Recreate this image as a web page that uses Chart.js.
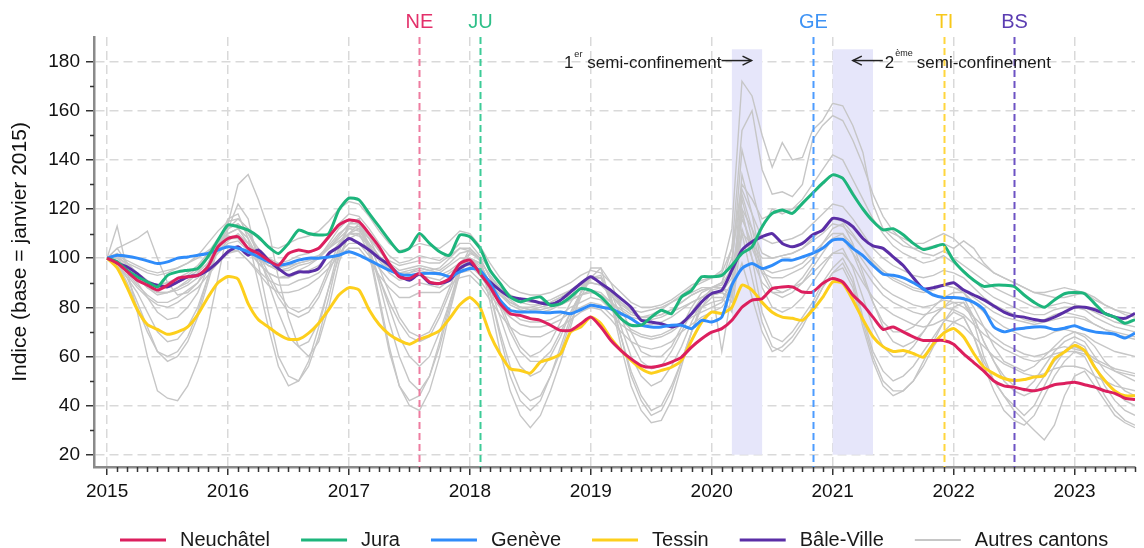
<!DOCTYPE html>
<html><head><meta charset="utf-8">
<script src="https://cdn.jsdelivr.net/npm/chart.js@4.4.1/dist/chart.umd.min.js"></script>
<style>html,body{margin:0;padding:0;background:#fff;}#wrap{width:1144px;height:548px;}</style>
</head><body><div id="wrap"><canvas id="c" width="1144" height="548"></canvas></div>
<script>
// ---------- DATA ----------
const firstYear = 2015; // monthly series starting January 2015
const yearTicks = [2015, 2016, 2017, 2018, 2019, 2020, 2021, 2022, 2023];
const valueTicks = [20, 40, 60, 80, 100, 120, 140, 160, 180];
const minorValueTicks = [30, 50, 70, 90, 110, 130, 150, 170];

const cantonNames = ['Neuchâtel', 'Jura', 'Genève', 'Tessin', 'Bâle-Ville'];
const cantonColors = ['#DC1F5E', '#1DB57C', '#2F8CFA', '#FDCF1C', '#5A2EA6'];
const otherLabel = 'Autres cantons';
const otherColor = '#C6C6C6';

const neuchatel = [
 100, 98, 94.5, 91, 89, 87, 89, 91.8, 92.4, 93, 96.4, 104.6,
 108, 108.7, 104, 101.9, 99.2, 97.1, 101.9, 103.3, 102.6, 104, 108.7, 113.5,
 115.5, 114.8, 110, 104.6, 97.8, 92.4, 91.7, 93.7, 90.3, 89.7, 91.7, 97.8,
 99.2, 93.7, 88.3, 81.5, 77.4, 76.7, 75.4, 74.7, 72.7, 70.6, 70.6, 73.3,
 76, 72, 66.5, 62.4, 59, 56.3, 55.6, 56.3, 57.7, 59.7, 63.8, 67.2,
 69.9, 71.3, 74.7, 80, 82.9, 83.5, 87.6, 88.3, 88.3, 86.2, 86.2, 89.7,
 91.7, 90.3, 85, 81, 76, 71, 72, 70, 68, 66.5, 66.5, 66.5,
 65, 61, 57.5, 54, 50, 48, 47.5, 46.5, 46, 47, 48.5, 49,
 49.5, 48.5, 47.5, 46, 45, 43, 42.5];
const jura = [
 100, 98.5, 95, 92.4, 90.3, 88.3, 93, 94.4, 95.1, 95.8, 100.5, 107.3,
 113.5, 112.8, 111.4, 108.7, 104.6, 101.9, 106, 111.4, 110, 109.4, 110, 119.6,
 124.4, 123.7, 118.2, 112.8, 107.3, 102.6, 104, 110, 106, 102.6, 101.2, 109.4,
 108.7, 104, 95.1, 89.7, 84.2, 82.2, 83.5, 84.2, 80.8, 81.5, 84.2, 87.6,
 86.9, 84.2, 80, 75.4, 72.7, 72.7, 76, 78.8, 77.4, 84.2, 86.9, 92.4,
 92.4, 93, 97.1, 101.9, 104.6, 112.8, 118.2, 119.6, 118.2, 122.3, 126.4, 130.5,
 133.9, 132.5, 126, 120, 115, 111.5, 112, 109.5, 106, 103.5, 104.5, 105.5,
 99, 94.5, 91, 88.5, 89, 89, 88.5, 85, 82, 80, 83, 85.5,
 86, 85.5, 81.5, 77.5, 76, 73.5, 75];
const geneve = [
 100, 101.2, 100.8, 100, 98.9, 97.8, 98.5, 100, 100.5, 101.2, 101.9, 103.3,
 104.6, 104, 102.6, 100.5, 98.5, 97.1, 97.8, 99.2, 100, 100, 100.5, 101.2,
 102.6, 101.2, 99.2, 97.1, 95.1, 93.5, 93, 93.7, 93.9, 93.7, 92.4, 94.4,
 95.8, 95.1, 89.7, 82.9, 78.8, 78.1, 78.1, 78, 77.8, 78.1, 77.4, 79,
 80.8, 80.1, 79.4, 77.4, 75.4, 72.7, 72, 72, 72.7, 72.7, 71.3, 74.7,
 74, 76, 89, 95.8, 97.8, 95.8, 97.1, 99.2, 99.2, 100.5, 101.9, 104,
 107.3, 107.6, 104, 101, 97, 93.5, 93, 92, 90, 87.5, 85, 84,
 84, 83.5, 82, 79, 72, 70, 71, 71.5, 72, 72, 71, 71.5,
 72.5, 71, 70, 69.5, 69, 67.5, 69.5];
const tessin = [
 100, 96, 88, 79, 73, 71, 69, 70, 72, 77, 84, 90,
 92.5, 91.5, 81.5, 75, 72, 69, 67, 67, 69.5, 73.5, 79, 85,
 88, 87, 79, 73, 69, 66.5, 65, 67, 68.5, 70.5, 75.5, 81,
 84, 80, 69, 61, 55, 54.3, 53.2, 57.7, 59, 61, 70, 72,
 76, 73.4, 67.3, 62.4, 58.4, 55, 53.2, 54.3, 55.6, 58.4, 66.5, 74,
 78, 77.5, 80, 89, 87, 82, 78, 76, 75.5, 74.7, 78.8, 84,
 90.3, 89.7, 83, 75, 68, 64, 62, 62.4, 61.2, 59.7, 65.2, 69.4,
 71.4, 67.9, 61.2, 55.6, 53, 51, 50.2, 50.6, 51.6, 52.2, 59, 61.8,
 64.5, 62.4, 55.6, 50.2, 46, 44, 44];
const baleVille = [
 100, 98, 96.4, 93.7, 90.3, 89, 88.3, 90.3, 92.4, 93, 95.1, 98.5,
 102.6, 104.6, 101.2, 103.3, 99.2, 95.8, 93, 94.4, 94.4, 95.8, 101.9, 104.6,
 108, 106, 103.3, 100, 97.1, 93, 91, 93.5, 89.9, 89.7, 91, 95.8,
 97.8, 94.4, 90.3, 86.9, 84.2, 83.5, 82.9, 81.8, 81.2, 82.9, 86.3, 89.7,
 92.4, 89.7, 86.9, 83.5, 80, 74.7, 74, 73.3, 72, 73.3, 77.4, 82.2,
 85.6, 86.9, 95.1, 103.3, 106.7, 108.7, 110, 106, 104.6, 106, 109.4, 111.4,
 116.2, 115.5, 112.8, 108, 105, 104, 100.5, 97, 92, 87.5, 88, 89,
 90, 87, 85, 83, 80.5, 78, 76.5, 76, 75, 74.5, 76, 78,
 80, 80, 79, 77.5, 76, 75.5, 77.5];

// other cantons (grey)
const other01 = [
 100, 113, 95, 78, 60, 46, 43, 42, 48, 58, 72, 92,
 112, 122, 116, 98, 78, 60, 52, 50, 56, 68, 84, 102,
 114, 116, 102, 82, 62, 48, 42, 44, 52, 66, 82, 96,
 104, 100, 82, 62, 46, 36, 31, 36, 46, 58, 72, 86,
 96, 96, 82, 64, 48, 38, 33, 34, 42, 56, 70, 82,
 88, 62, 86, 98, 84, 70, 62, 64, 68, 74, 80, 88,
 94, 96, 88, 72, 58, 48, 44, 46, 50, 58, 66, 74,
 78, 76, 68, 56, 46, 38, 34, 32, 36, 44, 52, 58,
 62, 60, 52, 44, 38, 34, 32];
const other02 = [
 100, 98, 92, 82, 72, 62, 58, 60, 66, 76, 90, 104,
 114, 130, 134, 124, 112, 92, 76, 64, 60, 66, 80, 98,
 110, 114, 104, 90, 74, 60, 50, 46, 52, 64, 80, 94,
 100, 98, 86, 70, 56, 46, 42, 44, 52, 62, 74, 84,
 92, 92, 82, 68, 54, 44, 38, 40, 48, 58, 70, 80,
 86, 86, 82, 120, 100, 78, 68, 66, 70, 76, 82, 90,
 96, 100, 92, 76, 62, 54, 50, 52, 56, 62, 68, 74,
 80, 82, 74, 60, 50, 44, 40, 36, 40, 48, 56, 62,
 66, 64, 56, 48, 42, 38, 36];
const other03 = [
 100, 97, 92, 86, 78, 70, 66, 67, 72, 80, 92, 104,
 112, 116, 112, 102, 90, 78, 68, 64, 66, 74, 88, 100,
 110, 112, 104, 92, 80, 68, 60, 56, 60, 70, 82, 94,
 100, 97, 88, 76, 64, 56, 52, 54, 60, 68, 78, 86,
 92, 92, 84, 72, 60, 52, 48, 50, 56, 64, 74, 82,
 86, 86, 84, 124, 108, 88, 80, 78, 80, 84, 90, 96,
 102, 104, 96, 84, 72, 64, 60, 60, 64, 70, 76, 80,
 84, 84, 76, 66, 58, 52, 48, 46, 50, 56, 62, 66,
 68, 66, 60, 54, 50, 46, 44];
const other04 = [
 100, 99, 95, 90, 84, 78, 75, 76, 80, 86, 96, 106,
 112, 114, 110, 102, 94, 86, 80, 78, 80, 86, 96, 106,
 112, 113, 106, 96, 86, 76, 70, 68, 70, 78, 88, 98,
 102, 100, 92, 82, 72, 64, 60, 62, 66, 74, 82, 88,
 92, 92, 86, 76, 66, 58, 55, 56, 62, 70, 78, 84,
 87, 88, 86, 126, 112, 94, 86, 84, 86, 90, 96, 102,
 108, 110, 102, 92, 82, 74, 70, 70, 72, 76, 80, 84,
 86, 86, 80, 72, 64, 58, 56, 54, 56, 60, 64, 68,
 70, 68, 64, 58, 54, 52, 50];
const other05 = [
 100, 98, 90, 80, 70, 62, 60, 62, 68, 78, 92, 106,
 116, 118, 108, 90, 72, 56, 48, 50, 58, 72, 88, 104,
 114, 116, 104, 84, 64, 48, 40, 38, 46, 60, 78, 94,
 102, 100, 86, 68, 52, 42, 38, 42, 52, 64, 76, 86,
 92, 93, 84, 68, 52, 42, 36, 38, 46, 58, 70, 80,
 84, 84, 78, 110, 92, 74, 64, 62, 66, 72, 80, 88,
 94, 98, 90, 74, 60, 50, 46, 46, 50, 56, 64, 70,
 74, 76, 68, 58, 50, 44, 38, 34, 30, 26, 32, 44,
 52, 54, 48, 42, 36, 33, 31];
const other06 = [
 100, 104, 106, 108, 111, 100, 90, 85, 86, 90, 98, 106,
 110, 112, 108, 100, 92, 84, 78, 76, 78, 84, 94, 104,
 108, 110, 102, 92, 82, 74, 68, 66, 68, 76, 86, 96,
 100, 98, 90, 80, 70, 62, 58, 58, 62, 70, 78, 86,
 92, 96, 90, 80, 70, 62, 60, 60, 64, 72, 80, 86,
 88, 88, 84, 134, 118, 96, 88, 86, 88, 92, 98, 106,
 112, 114, 106, 94, 82, 72, 66, 64, 66, 70, 76, 80,
 82, 82, 76, 66, 58, 50, 46, 44, 46, 52, 58, 62,
 64, 62, 56, 50, 46, 42, 40];
const other07 = [
 100, 104, 98, 92, 88, 85, 86, 88, 90, 94, 100, 106,
 110, 112, 106, 98, 94, 92, 93, 95, 97, 100, 106, 112,
 116, 114, 108, 100, 95, 93, 94, 96, 95, 96, 100, 104,
 104, 100, 92, 86, 82, 80, 80, 81, 82, 84, 87, 90,
 92, 90, 85, 80, 77, 76, 77, 79, 82, 85, 88, 90,
 92, 95, 112, 172, 166, 150, 137, 147, 140, 141, 152, 156,
 163, 162, 154, 143, 122, 112, 108, 105, 104, 104, 105, 106,
 104, 107, 104, 98, 94, 92, 90, 88, 86, 85, 84, 84,
 85, 86, 84, 81, 79, 77, 76];
const other08 = [
 100, 97, 95, 92, 90, 89, 90, 91, 93, 96, 101, 106,
 109, 108, 104, 100, 97, 96, 97, 98, 99, 101, 105, 110,
 113, 112, 108, 103, 99, 97, 98, 99, 98, 98, 101, 104,
 103, 99, 93, 88, 85, 83, 82, 82, 83, 85, 87, 89,
 90, 89, 86, 82, 79, 78, 79, 80, 82, 84, 86, 88,
 88, 90, 104, 152, 160, 136, 126, 127, 125, 130, 148, 154,
 158, 156, 148, 138, 126, 117, 111, 107, 104, 102, 101, 103,
 100, 97, 94, 91, 88, 86, 84, 82, 80, 80, 81, 82,
 81, 80, 78, 76, 74, 73, 72];
const other09 = [
 100, 102, 98, 94, 91, 89, 90, 92, 94, 97, 102, 108,
 112, 114, 110, 104, 100, 98, 99, 101, 102, 104, 108, 114,
 118, 117, 112, 106, 101, 98, 99, 101, 100, 99, 102, 106,
 106, 101, 95, 89, 85, 82, 81, 81, 82, 84, 86, 89,
 92, 90, 86, 82, 78, 76, 76, 77, 79, 82, 85, 87,
 88, 90, 100, 128, 118, 108, 106, 107, 108, 110, 114, 118,
 122, 121, 116, 110, 104, 100, 97, 95, 93, 92, 93, 95,
 94, 92, 88, 84, 81, 79, 77, 75, 74, 75, 77, 78,
 77, 76, 73, 71, 69, 68, 67];
const other10 = [
 100, 99, 96, 93, 90, 88, 88, 90, 92, 95, 100, 104,
 108, 108, 104, 100, 97, 95, 96, 98, 99, 100, 104, 108,
 112, 111, 106, 101, 97, 94, 95, 96, 95, 94, 97, 100,
 100, 96, 90, 85, 81, 79, 78, 78, 79, 81, 83, 85,
 87, 86, 82, 78, 75, 73, 73, 74, 76, 79, 82, 84,
 85, 86, 94, 120, 112, 102, 100, 101, 102, 104, 108, 112,
 116, 115, 110, 104, 98, 94, 91, 89, 87, 86, 87, 89,
 88, 86, 82, 78, 75, 72, 70, 68, 67, 68, 70, 71,
 70, 69, 66, 64, 62, 61, 60];
const other11 = [
 100, 101, 97, 93, 89, 86, 86, 87, 89, 92, 97, 102,
 106, 107, 103, 98, 94, 92, 92, 94, 95, 97, 101, 106,
 110, 110, 105, 99, 94, 91, 92, 93, 92, 91, 94, 97,
 97, 93, 87, 82, 78, 75, 74, 74, 75, 77, 80, 82,
 84, 83, 79, 75, 71, 69, 68, 69, 71, 74, 77, 80,
 82, 83, 90, 116, 106, 96, 94, 95, 96, 98, 102, 106,
 110, 110, 105, 99, 93, 88, 85, 83, 81, 80, 81, 83,
 82, 80, 76, 72, 68, 65, 63, 61, 60, 61, 63, 64,
 63, 62, 59, 57, 55, 54, 53];
const other12 = [
 100, 100, 98, 96, 94, 93, 94, 96, 98, 101, 106, 111,
 115, 116, 112, 108, 105, 104, 106, 108, 109, 111, 115, 120,
 123, 122, 117, 111, 106, 103, 104, 106, 105, 104, 107, 111,
 110, 105, 98, 92, 88, 86, 85, 85, 86, 88, 90, 93,
 95, 94, 90, 86, 82, 80, 80, 81, 83, 86, 89, 91,
 92, 94, 104, 130, 124, 116, 118, 119, 120, 122, 126, 130,
 134, 133, 127, 120, 115, 112, 110, 108, 106, 106, 108, 110,
 108, 104, 100, 97, 94, 92, 90, 88, 86, 86, 87, 88,
 87, 86, 83, 81, 79, 78, 77];
const other13 = [
 100, 97, 93, 88, 84, 81, 80, 82, 85, 88, 93, 98,
 102, 103, 99, 94, 89, 86, 86, 87, 89, 92, 96, 101,
 104, 104, 99, 93, 88, 84, 84, 86, 86, 86, 89, 92,
 93, 89, 83, 77, 72, 69, 68, 68, 70, 72, 75, 78,
 80, 79, 75, 70, 66, 64, 63, 64, 66, 70, 73, 76,
 78, 80, 86, 112, 100, 90, 86, 86, 88, 90, 94, 98,
 102, 102, 97, 90, 84, 80, 77, 75, 73, 72, 73, 75,
 74, 72, 68, 64, 60, 57, 55, 53, 52, 53, 55, 56,
 56, 55, 52, 50, 48, 47, 46];
const other14 = [
 100, 100, 96, 92, 88, 86, 86, 88, 91, 94, 98, 103,
 107, 110, 106, 101, 97, 95, 95, 97, 98, 100, 104, 109,
 114, 114, 109, 103, 98, 95, 96, 97, 96, 95, 98, 102,
 103, 99, 93, 87, 83, 80, 79, 80, 81, 83, 85, 88,
 90, 89, 85, 81, 78, 76, 76, 77, 79, 82, 85, 87,
 88, 89, 96, 144, 128, 112, 120, 118, 120, 124, 130, 136,
 142, 140, 132, 124, 116, 110, 105, 102, 100, 98, 99, 101,
 98, 95, 91, 87, 84, 82, 80, 78, 77, 77, 79, 80,
 80, 79, 76, 74, 72, 71, 70];
const other15 = [
 100, 98, 94, 89, 85, 82, 82, 84, 87, 90, 95, 99,
 103, 103, 99, 95, 91, 89, 89, 91, 92, 94, 98, 102,
 106, 106, 101, 96, 91, 88, 88, 90, 89, 88, 91, 94,
 95, 91, 85, 80, 76, 73, 72, 72, 73, 75, 78, 80,
 82, 81, 77, 73, 70, 68, 67, 68, 70, 73, 76, 78,
 80, 82, 88, 118, 104, 94, 92, 92, 94, 96, 100, 104,
 108, 108, 102, 96, 90, 85, 82, 80, 78, 77, 78, 80,
 79, 77, 73, 69, 66, 63, 61, 59, 58, 59, 61, 62,
 62, 61, 58, 56, 54, 53, 52];
const other16 = [
 100, 101, 99, 97, 95, 94, 95, 96, 98, 100, 103, 106,
 108, 109, 106, 102, 99, 97, 98, 99, 100, 101, 104, 107,
 110, 109, 105, 100, 96, 94, 94, 95, 94, 93, 95, 98,
 98, 94, 89, 85, 82, 80, 79, 79, 80, 81, 83, 85,
 86, 85, 82, 79, 76, 75, 75, 76, 78, 80, 82, 84,
 85, 86, 92, 110, 106, 100, 100, 101, 102, 104, 107, 110,
 114, 113, 109, 104, 99, 95, 92, 90, 88, 87, 88, 89,
 88, 87, 84, 81, 78, 76, 75, 74, 73, 74, 75, 76,
 76, 75, 73, 71, 70, 69, 68];
const otherCantons = [other01, other02, other03, other04, other05, other06, other07, other08,
  other09, other10, other11, other12, other13, other14, other15, other16];

// events (date of change) and lockdown periods
const eventCodes = ['NE', 'JU', 'GE', 'TI', 'BS'];
const eventDates = [2017 + 7/12, 2018 + 1/12, 2020 + 10/12, 2021 + 11/12, 2022 + 6/12];
const eventTextColors = ['#E3306A', '#2DBF88', '#3E93F5', '#F7C81A', '#5B3DB2'];
const eventLineColors = ['#EE7CA0', '#3DCB97', '#4C9CFF', '#FFD63D', '#6D52C4'];
const lockdownStarts = [2020 + 2/12, 2021 + 0/12];
const lockdownEnds = [2020 + 5/12, 2021 + 4/12];
const lockdownTop = 185, lockdownBottom = 20;

// ---------- CHART ----------
const FONT = "'Liberation Sans', Arial, sans-serif";
Chart.defaults.font.family = FONT;
const toPoints = arr => arr.map((v, i) => ({ x: firstYear + i / 12, y: v }));

const cantonSeries = [neuchatel, jura, geneve, tessin, baleVille];
const datasets = cantonSeries.map((arr, i) => ({
  label: cantonNames[i], data: toPoints(arr),
  borderColor: cantonColors[i], backgroundColor: cantonColors[i],
  borderWidth: 3, tension: 0.2, pointRadius: 0
})).concat(otherCantons.map(arr => ({
  label: otherLabel, data: toPoints(arr),
  borderColor: otherColor, backgroundColor: otherColor,
  borderWidth: 1.4, tension: 0, pointRadius: 0
})));

function arrow(ctx, tail, tip, yy) {
  const d = tip > tail ? -1 : 1;
  ctx.beginPath(); ctx.moveTo(tail, yy); ctx.lineTo(tip, yy); ctx.stroke();
  ctx.beginPath(); ctx.moveTo(tip + d * 9, yy - 4.5); ctx.lineTo(tip, yy); ctx.lineTo(tip + d * 9, yy + 4.5); ctx.stroke();
}

const overlay = {
  id: 'overlay',
  beforeDatasetsDraw(chart) {
    const { ctx, scales: { x, y } } = chart;
    ctx.save();
    ctx.fillStyle = '#E6E6FA';
    lockdownStarts.forEach((s, i) => {
      const x0 = x.getPixelForValue(s), x1 = x.getPixelForValue(lockdownEnds[i]);
      const y0 = y.getPixelForValue(lockdownTop), y1 = y.getPixelForValue(lockdownBottom);
      ctx.fillRect(x0, y0, x1 - x0, y1 - y0);
    });
    ctx.restore();
  },
  afterDatasetsDraw(chart) {
    const { ctx, chartArea, scales: { x, y } } = chart;
    ctx.save();
    eventCodes.forEach((code, i) => {
      const px = Math.round(x.getPixelForValue(eventDates[i])) + 0.5;
      ctx.strokeStyle = eventLineColors[i]; ctx.lineWidth = 2; ctx.setLineDash([7, 4]);
      ctx.beginPath(); ctx.moveTo(px, chartArea.top); ctx.lineTo(px, chartArea.bottom); ctx.stroke();
      ctx.setLineDash([]);
      ctx.fillStyle = eventTextColors[i]; ctx.font = '20px ' + FONT;
      ctx.textAlign = 'center'; ctx.textBaseline = 'middle';
      ctx.fillText(code, px, 22);
    });
    // lockdown annotations
    const ay = y.getPixelForValue(180) - 1;
    ctx.strokeStyle = '#222'; ctx.lineWidth = 1.5; ctx.fillStyle = '#1a1a1a';
    ctx.textBaseline = 'middle';
    let a0 = x.getPixelForValue(lockdownStarts[0]), a1 = x.getPixelForValue(lockdownEnds[0]);
    let tip = a0 + 0.65 * (a1 - a0), tail = tip - 30;
    arrow(ctx, tail, tip, ay);
    ctx.font = '17px ' + FONT; ctx.textAlign = 'right';
    ctx.fillText('semi-confinement', tail, ay + 3);
    const wS = ctx.measureText('semi-confinement').width;
    ctx.font = '9px ' + FONT;
    ctx.fillText('er', tail - wS - 5, ay - 6);
    const wEr = ctx.measureText('er').width;
    ctx.font = '17px ' + FONT;
    ctx.fillText('1', tail - wS - 6 - wEr, ay + 3);
    a0 = x.getPixelForValue(lockdownStarts[1]); a1 = x.getPixelForValue(lockdownEnds[1]);
    tip = a0 + 0.5 * (a1 - a0); tail = tip + 30;
    arrow(ctx, tail, tip, ay);
    ctx.textAlign = 'left';
    ctx.font = '17px ' + FONT;
    ctx.fillText('2', tail + 2, ay + 3);
    const w2 = ctx.measureText('2').width;
    ctx.font = '9px ' + FONT;
    ctx.fillText('ème', tail + 3 + w2, ay - 7);
    ctx.font = '17px ' + FONT;
    ctx.fillText('semi-confinement', tail + 34, ay + 3);
    ctx.restore();
  },
  afterDraw(chart) {
    const { ctx, chartArea, scales: { x, y } } = chart;
    ctx.save();
    ctx.strokeStyle = '#333'; ctx.lineWidth = 1.5;
    const nMonths = Math.floor((x.max - firstYear) * 12 + 1e-6);
    for (let k = 1; k <= nMonths; k++) {
      if (k % 12 === 0) continue;
      const px = Math.round(x.getPixelForValue(firstYear + k / 12)) + 0.5;
      ctx.beginPath(); ctx.moveTo(px, chartArea.bottom); ctx.lineTo(px, chartArea.bottom + 5); ctx.stroke();
    }
    minorValueTicks.forEach(v => {
      const py = Math.round(y.getPixelForValue(v)) + 0.5;
      ctx.beginPath(); ctx.moveTo(chartArea.left - 4, py); ctx.lineTo(chartArea.left, py); ctx.stroke();
    });
    const seen = new Set(); const items = [];
    chart.data.datasets.forEach(ds => {
      if (!seen.has(ds.label)) { seen.add(ds.label); items.push(ds); }
    });
    let lx = 120; const ly = 540;
    ctx.font = '20px ' + FONT; ctx.textAlign = 'left'; ctx.textBaseline = 'middle';
    items.forEach(ds => {
      ctx.strokeStyle = ds.borderColor; ctx.lineWidth = ds.label === otherLabel ? 2 : 3;
      ctx.beginPath(); ctx.moveTo(lx, ly); ctx.lineTo(lx + 46, ly); ctx.stroke();
      ctx.fillStyle = '#1a1a1a';
      ctx.fillText(ds.label, lx + 60, ly);
      lx += 60 + ctx.measureText(ds.label).width + 31;
    });
    ctx.restore();
  }
};

new Chart(document.getElementById('c'), {
  type: 'line',
  data: { datasets },
  options: {
    responsive: false, animation: false,
    layout: { padding: { top: 37, right: 9, bottom: 0, left: 0 } },
    plugins: { legend: { display: false }, tooltip: { enabled: false } },
    scales: {
      x: {
        type: 'linear', min: 2014.892, max: 2023.5,
        afterBuildTicks: s => { s.ticks = yearTicks.map(v => ({ value: v })); },
        afterFit: s => { s.height = 81; },
        ticks: { callback: v => String(v), font: { size: 19 }, color: '#111', padding: 5, maxRotation: 0, autoSkip: false },
        grid: { color: '#D9D9D9', lineWidth: 1.5, tickColor: '#333', tickLength: 8, tickWidth: 1.5 },
        border: { display: true, color: '#8a8a8a', width: 2.5, dash: [9, 5] }
      },
      y: {
        type: 'linear', min: 15, max: 190,
        afterBuildTicks: s => { s.ticks = valueTicks.map(v => ({ value: v })); },
        afterFit: s => { s.width = 94; },
        ticks: { font: { size: 19 }, color: '#111', padding: 6 },
        grid: { color: '#D9D9D9', lineWidth: 1.5, tickColor: '#333', tickLength: 8, tickWidth: 1.5 },
        border: { display: true, color: '#8a8a8a', width: 2.5, dash: [9, 5] },
        title: { display: true, text: 'Indice (base = janvier 2015)', font: { size: 21 }, color: '#111', padding: { top: 8, bottom: 0 } }
      }
    }
  },
  plugins: [overlay]
});
</script></body></html>
